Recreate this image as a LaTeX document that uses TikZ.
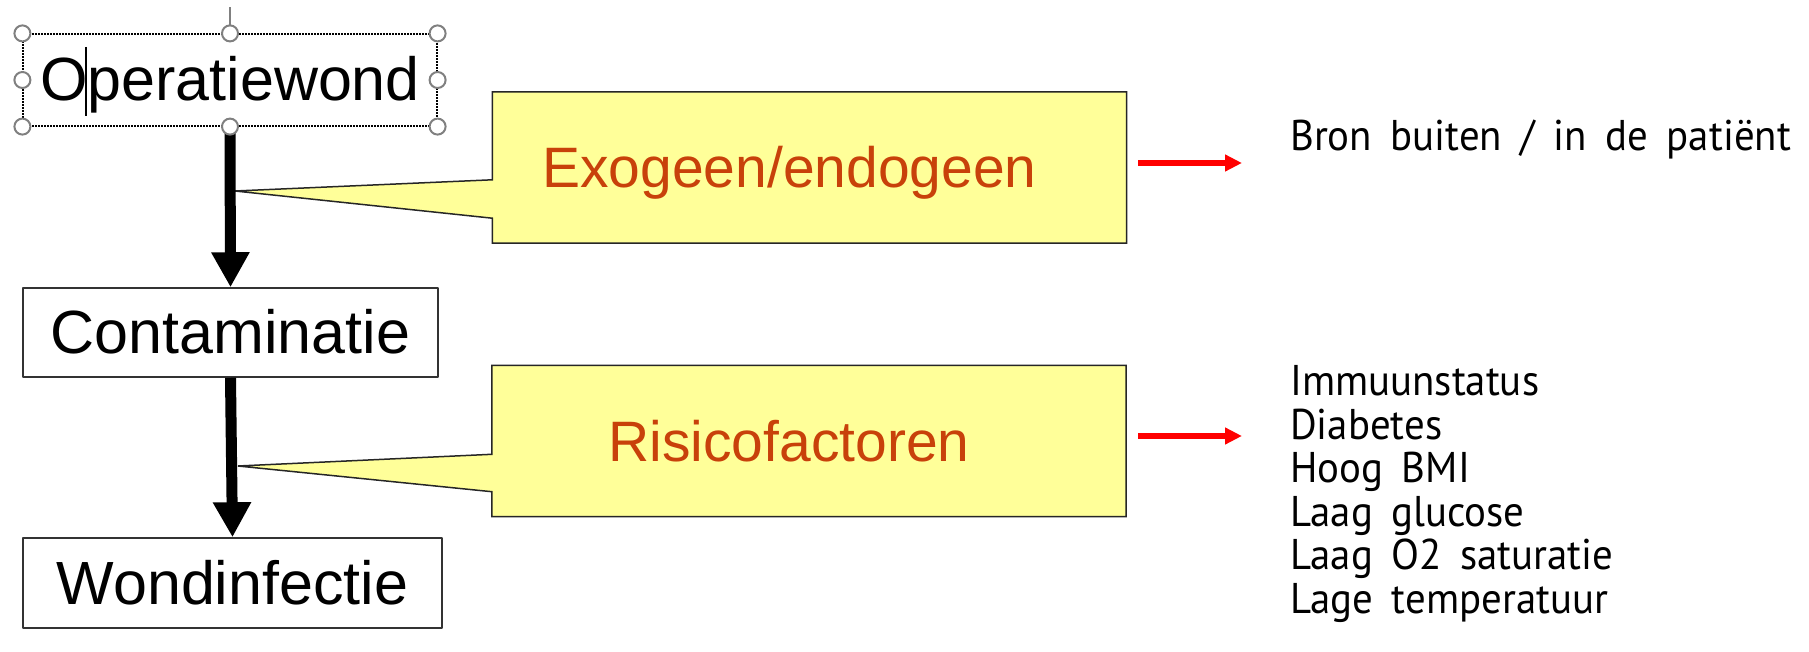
\documentclass[tikz,border=0pt]{standalone}
\usepackage{fontspec}
\setmainfont{Liberation Sans}
\newfontfamily\listfont[FakeStretch=0.95,WordSpace=1.7]{PT Sans}
\usetikzlibrary{arrows.meta}
\usetikzlibrary{calc}
\usetikzlibrary{positioning}
\usetikzlibrary{backgrounds}
\definecolor{calloutyellow}{RGB}{255,255,153}
\definecolor{rustred}{RGB}{200,65,10}
\definecolor{handlegray}{RGB}{128,128,128}

\tikzset{
  box/.style={draw=black!80,line width=1.5pt,fill=white,inner sep=0pt,text height=42pt,text depth=0pt,font=\fontsize{61}{61}\selectfont},
  selbox/.style={box,draw=black,dash pattern=on 2pt off 1pt,line width=1.2pt},
  calloutbox/.style={inner sep=0pt,minimum width=634pt,minimum height=151pt,text height=40pt,text depth=0pt,text=rustred,font=\fontsize{57}{57}\selectfont,execute at end node={\hspace*{40pt}}},
  callout/.style={fill=calloutyellow,draw=black!85,line width=1.5pt,line join=miter},
  flow/.style={-{Triangle[width=36pt,length=35pt]},line width=11pt},
  redarrow/.style={-{Triangle[width=16pt,length=17pt]},line width=6pt,red},
  handle/.style={draw=handlegray,fill=white,line width=2pt},
  listtext/.style={font=\listfont\fontsize{43}{43}\selectfont,inner sep=0pt}
}

\begin{document}
\begin{tikzpicture}[line cap=butt,line join=round,x=1pt,y=-1pt]
\useasboundingbox (0,0) rectangle (1809,652);
% left column
\node[selbox,minimum width=414pt,minimum height=92pt] (wond) at (230,80) {Operatiewond};
\node[box,minimum width=415pt,minimum height=89pt] (contam) at (230.5,332.5) {Contaminatie};
\node[box,minimum width=419pt,minimum height=90pt] (infectie) at (232.5,583) {Wondinfectie};
\draw[line width=1.5pt] (86,47) -- (86,116);
\draw[flow] (wond.south) -- (contam.north);
\draw[flow] (contam.south) -- (infectie.north);
% selection handles
\draw[handlegray,line width=1.5pt] (wond.north) -- ++(0,-26);
\foreach \a in {north west,north,north east,west,east,south west,south,south east}
\filldraw[handle] (wond.\a) circle (8pt);
% callouts
\coordinate (tipA) at (235,191);
\coordinate (tipB) at (238,466);
\node[calloutbox] (exo) at (809.5,167.5) {Exogeen/endogeen};
\node[calloutbox] (risico) at (809,441) {Risicofactoren};
\begin{scope}[on background layer]
\filldraw[callout] (exo.north west) -- (exo.north east) -- (exo.south east) -- (exo.south west)
  -- ($(exo.south west)+(0,-25)$) -- (tipA) -- ($(exo.north west)+(0,88)$) -- cycle;
\filldraw[callout] (risico.north west) -- (risico.north east) -- (risico.south east) -- (risico.south west)
  -- ($(risico.south west)+(0,-25)$) -- (tipB) -- ($(risico.north west)+(0,89)$) -- cycle;
\end{scope}
% right column
\coordinate (redA1) at (1138,163);
\coordinate (redA2) at (1242,163);
\coordinate (redB1) at (1138,436);
\coordinate (redB2) at (1242,436);
\draw[redarrow] (redA1) -- (redA2);
\draw[redarrow] (redB1) -- (redB2);
\node[listtext,anchor=base west] (bron) at (1290,151) {Bron buiten / in de patiënt};
\foreach \t [count=\i] in {Immuunstatus,Diabetes,Hoog BMI,Laag glucose,Laag O2 saturatie,Lage temperatuur}
\node[listtext,anchor=base west] (risk\i) at (1290,352+43.5*\i) {\t};
\end{tikzpicture}
\end{document}
